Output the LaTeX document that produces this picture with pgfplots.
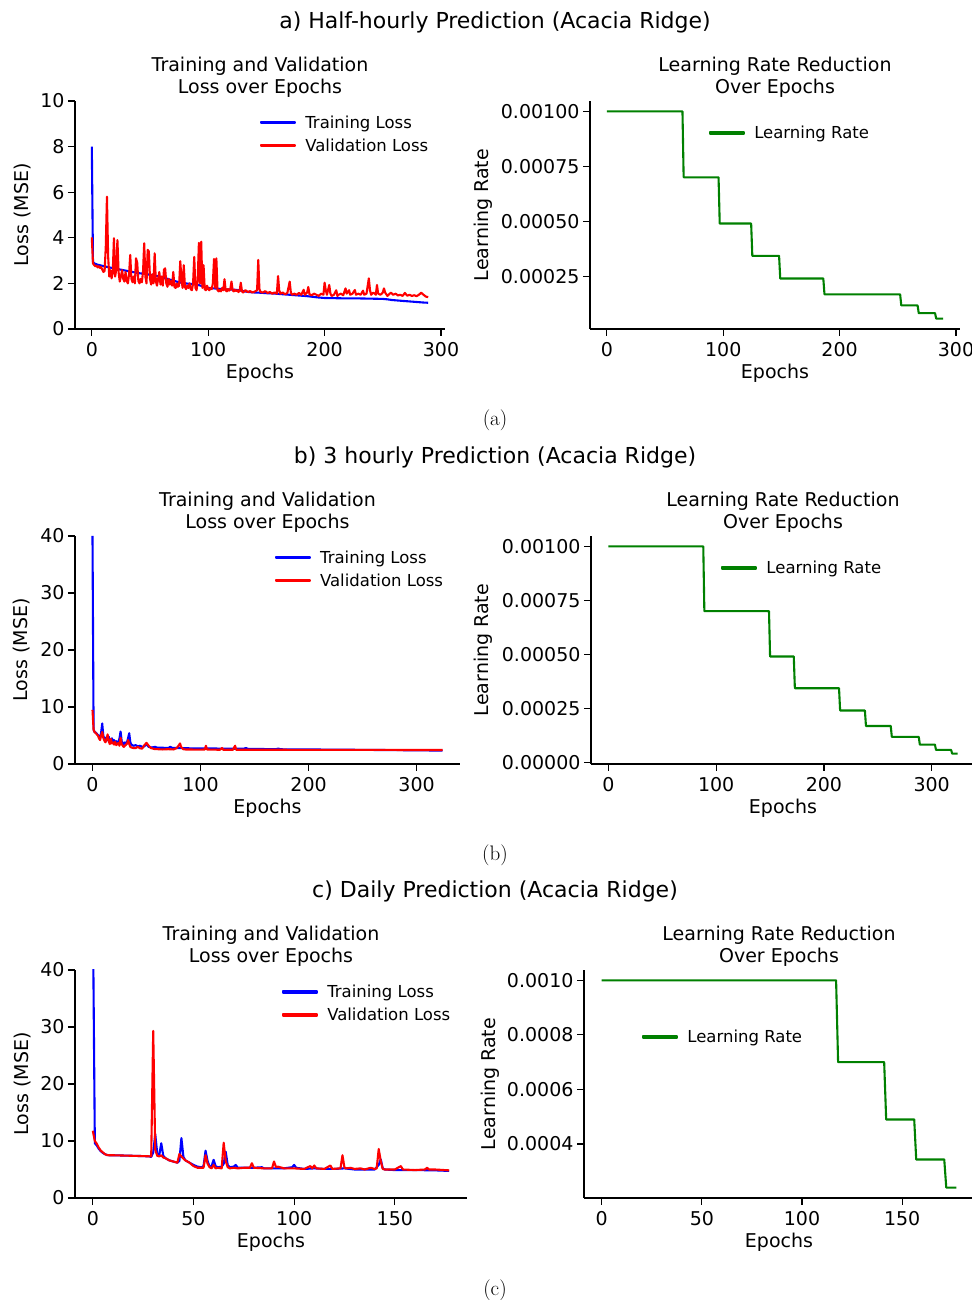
\documentclass[border=0pt]{standalone}
\usepackage{pgfplots}
\pgfplotsset{compat=1.18}
\usepackage{pgfplotstable}
\usepackage{fontspec}
\newfontfamily\dv{DejaVu Sans}

\definecolor{mplblue}{RGB}{0,0,255}
\definecolor{mplred}{RGB}{255,0,0}
\definecolor{mplgreen}{RGB}{0,128,0}

% ---------------- a) Half-hourly ----------------
\pgfplotstableread{
e v
0 8.0
1 2.95
2 2.88
5 2.82
10 2.76
15 2.7
20 2.65
25 2.6
30 2.55
35 2.5
40 2.45
45 2.42
50 2.38
55 2.33
60 2.28
65 2.2
70 2.12
75 2.05
80 2.0
85 1.98
90 1.95
95 1.88
100 1.8
105 1.78
110 1.76
115 1.74
120 1.73
125 1.71
130 1.66
135 1.62
140 1.6
145 1.59
150 1.57
155 1.56
160 1.54
165 1.52
170 1.5
175 1.48
180 1.46
185 1.44
190 1.41
195 1.38
200 1.36
210 1.35
220 1.34
230 1.34
240 1.33
250 1.32
254 1.3
258 1.27
265 1.24
270 1.22
275 1.2
280 1.18
285 1.16
289 1.15
}\aTrain

\pgfplotstableread{
e v
0 4.02
1 2.88
2 2.8
3 2.75
4 2.78
5 2.7
6 2.75
7 2.68
8 2.72
9 2.6
10 2.5
11 2.55
12 3.6
13 5.8
14 3.2
15 2.3
16 2.58
17 2.22
18 2.5
19 3.98
20 2.3
21 2.6
22 3.9
23 2.5
24 2.08
25 2.3
26 2.58
27 2.2
28 2.08
29 2.5
30 2.1
31 2.0
32 2.4
33 3.25
34 2.2
35 2.05
36 2.3
37 2.0
38 3.1
39 2.9
40 2.1
41 2.0
42 2.2
43 2.05
44 2.5
45 3.76
46 2.3
47 2.0
48 3.47
49 3.4
50 2.2
51 1.95
52 2.4
53 2.0
54 3.32
55 2.1
56 1.9
57 2.2
58 2.5
59 1.95
60 2.3
61 1.9
62 2.6
63 2.66
64 2.0
65 1.85
66 2.2
67 1.95
68 2.1
69 1.9
70 2.5
71 1.85
72 1.8
73 2.0
74 1.85
75 1.9
76 2.97
77 2.2
78 1.8
79 2.8
80 1.85
81 1.75
82 1.9
83 1.8
84 2.0
85 1.75
86 1.7
87 2.0
88 3.16
89 1.8
90 1.7
91 2.2
92 3.78
93 2.0
94 3.83
95 1.8
96 2.8
97 1.75
98 1.7
99 1.9
100 1.75
101 1.7
102 1.8
103 1.75
104 2.0
105 3.07
106 1.8
107 3.1
108 1.7
109 1.65
110 1.72
111 1.65
112 1.8
113 1.7
114 2.18
115 1.7
116 1.65
117 1.75
118 1.68
119 1.75
120 2.08
121 1.7
122 1.65
123 1.72
124 1.66
125 1.7
126 1.62
127 1.68
128 2.03
129 1.65
130 1.6
132 1.7
134 1.62
136 1.66
138 1.6
140 1.64
142 1.7
143 3.03
144 1.75
145 1.62
147 1.6
149 1.66
151 1.58
153 1.62
155 1.55
157 1.6
159 1.55
160 2.32
161 1.7
162 1.55
164 1.6
166 1.52
168 1.58
170 2.08
171 1.6
172 1.5
174 1.55
176 1.5
178 1.58
180 1.5
182 1.72
183 1.5
185 1.6
186 1.84
187 1.52
189 1.48
191 1.55
193 1.5
195 1.45
197 1.55
199 1.5
200 2.03
201 1.7
202 1.5
204 1.93
205 1.55
206 1.45
208 1.5
210 1.7
211 1.45
212 1.5
214 1.55
216 1.48
218 1.78
219 1.55
221 1.7
222 1.5
224 1.55
226 1.71
227 1.5
229 1.55
231 1.5
233 1.68
234 1.5
236 1.55
238 2.22
239 1.7
240 1.5
242 1.6
244 1.5
245 1.93
246 1.55
248 1.5
250 1.6
251 1.78
252 1.6
254 1.45
256 1.55
257 1.59
259 1.5
261 1.55
263 1.47
265 1.5
267 1.45
269 1.58
271 1.46
273 1.5
275 1.45
277 1.48
279 1.44
281 1.5
283 1.59
285 1.5
287 1.42
289 1.4
}\aVal

\pgfplotstableread{
e v
0 0.001
65 0.001
66 0.0007
96 0.0007
97 0.00049
124 0.00049
125 0.000343
148 0.000343
149 0.0002401
186 0.0002401
187 0.00016807
252 0.00016807
253 0.000117649
267 0.000117649
268 0.0000823543
282 0.0000823543
283 0.000057648
289 0.000057648
}\aLR

% ---------------- b) 3 hourly ----------------
\pgfplotstableread{
e v
0 40
1 6.0
2 5.6
3 5.5
4 5.3
5 5.1
6 4.8
7 4.6
8 5.5
9 7.1
10 5.0
11 4.4
12 4.6
13 4.1
14 4.3
15 4.8
16 4.0
17 4.2
18 4.5
19 3.8
20 4.2
21 3.7
22 4.0
23 3.6
24 3.9
25 4.5
26 5.7
27 4.0
28 3.7
29 3.5
30 3.8
31 3.4
32 3.8
33 4.6
34 5.4
35 3.8
36 3.4
37 3.3
38 3.2
40 3.3
42 3.1
44 3.2
46 3.0
48 3.1
50 3.5
52 3.0
55 2.9
58 3.0
60 2.85
65 2.85
70 2.8
72 3.0
74 2.8
80 2.8
85 2.78
90 2.75
100 2.75
110 2.72
120 2.7
130 2.68
140 2.67
142 2.8
144 2.65
150 2.64
170 2.6
172 2.7
174 2.58
200 2.55
250 2.48
300 2.4
324 2.35
}\bTrain

\pgfplotstableread{
e v
0 9.5
1 6.0
2 5.6
3 5.4
4 5.2
5 5.0
6 4.5
7 4.2
8 5.0
9 5.6
10 4.6
11 4.1
12 3.8
13 4.4
14 5.2
15 4.0
16 3.5
17 4.4
18 3.6
19 3.8
20 3.4
21 3.9
22 3.3
23 3.5
24 3.7
25 3.2
26 4.6
27 3.5
28 3.2
29 3.0
30 3.2
31 3.4
32 3.6
33 4.2
34 3.5
35 3.0
36 2.9
38 2.8
40 2.8
42 3.0
44 2.75
46 2.7
48 3.3
50 3.7
52 3.2
54 2.8
56 2.7
58 2.6
60 2.6
65 2.55
70 2.6
75 2.55
78 2.8
80 3.3
81 3.6
82 3.0
84 2.6
86 2.55
90 2.55
95 2.52
100 2.52
104 2.55
105 3.2
106 2.55
110 2.52
118 2.5
120 2.8
121 2.5
130 2.5
132 3.2
133 2.5
140 2.5
160 2.5
200 2.48
250 2.47
300 2.46
324 2.45
}\bVal

\pgfplotstableread{
e v
0 0.001
88 0.001
89 0.0007
149 0.0007
150 0.00049
172 0.00049
173 0.000343
214 0.000343
215 0.0002401
238 0.0002401
239 0.00016807
262 0.00016807
263 0.000117649
288 0.000117649
289 0.0000823543
303 0.0000823543
304 0.000057648
318 0.000057648
319 0.0000403536
324 0.0000403536
}\bLR

% ---------------- c) Daily ----------------
\pgfplotstableread{
e v
0 52
1 9.6
2 9.2
3 8.6
4 8.2
5 7.9
6 7.7
7 7.55
8 7.5
10 7.5
15 7.45
20 7.4
25 7.35
28 7.3
29 7.2
30 8.0
31 11.2
32 7.8
33 7.5
34 9.6
35 7.4
36 7.0
37 6.8
38 6.6
40 6.4
42 6.2
43 6.5
44 10.5
45 7.2
46 6.6
48 6.2
50 5.8
52 5.5
54 5.4
55 5.6
56 8.3
57 6.5
58 5.5
59 5.6
60 6.7
61 5.6
62 5.4
64 5.5
65 6.0
66 8.1
67 5.8
68 5.4
70 5.5
71 5.8
72 5.3
75 5.3
80 5.3
84 5.4
85 5.2
90 5.2
95 5.2
99 5.4
100 5.8
101 5.3
105 5.1
110 5.2
115 5.1
120 5.1
125 5.2
130 5.0
140 5.0
142 5.8
143 6.8
144 5.2
145 5.0
150 4.9
160 4.9
170 4.85
177 4.75
}\cTrain

\pgfplotstableread{
e v
0 11.8
1 10.0
2 9.5
3 8.8
4 8.3
5 8.0
6 7.7
7 7.55
8 7.5
10 7.5
15 7.45
20 7.4
25 7.35
29 7.3
30 29.3
31 8.5
32 7.4
33 7.3
34 7.5
35 7.1
36 7.0
38 6.6
40 6.4
42 6.2
43 7.7
44 7.3
45 6.9
46 6.6
48 6.2
50 5.6
52 5.3
55 5.3
56 7.5
57 6.0
58 5.4
59 5.2
60 5.8
61 5.2
62 5.3
64 5.2
65 9.7
66 6.5
67 5.4
68 5.2
70 5.3
72 5.2
75 5.3
78 5.3
79 6.1
80 5.3
85 5.2
89 5.2
90 6.4
91 5.4
92 5.5
95 5.2
100 5.2
105 5.1
108 5.6
109 5.2
110 5.7
111 5.2
115 5.1
118 5.7
119 5.1
123 5.2
124 7.5
125 5.3
126 5.2
128 5.3
130 5.1
133 5.2
135 5.0
138 5.3
140 5.1
141 5.2
142 8.6
143 6.5
144 5.1
145 5.0
150 5.0
153 5.6
154 5.0
160 4.9
165 5.0
166 5.3
167 5.0
170 5.0
177 4.85
}\cVal

\pgfplotstableread{
e v
0 0.001
117 0.001
118 0.0007
141 0.0007
142 0.00049
156 0.00049
157 0.000343
171 0.000343
172 0.0002401
177 0.0002401
}\cLR

\pgfplotsset{
  panel/.style={
    scale only axis, height=228pt,
    axis lines=left,
    axis line style={-, line width=1.1pt, black},
    tick align=outside, major tick length=7pt,
    tick style={line width=1.1pt, black},
    enlargelimits=false, clip=true, scaled ticks=false,
    /pgf/number format/assume math mode=true,
    tick label style={font=\dv\fontsize{19}{19}\selectfont},
    xticklabel style={yshift=-3pt},
    label style={font=\dv\fontsize{19}{19}\selectfont},
    title style={font=\dv\fontsize{19}{22}\selectfont, align=center,
      at={(axis description cs:0.5,1)}, anchor=south, yshift=-3pt, inner sep=0pt},
    xlabel={Epochs},
    xlabel style={at={(axis description cs:0.5,-0.193)}, anchor=center},
    legend style={draw=none, fill=none, font=\dv\fontsize{16.5}{16.5}\selectfont,
      anchor=west, inner sep=0pt, row sep=5pt, column sep=7pt},
    legend cell align=left,
  },
  % legend key: a short bar in the series colour
  key/.style={legend image code/.code={\fill[#1] (0pt,-0.8pt) rectangle (34pt,0.8pt);}},
  curve/.style={line width=2.1pt, line join=round},
  losspanel/.style={panel, ylabel={Loss (MSE)},
    title={Training and Validation\\Loss over Epochs}},
  lrpanel/.style={panel, ylabel={Learning Rate},
    title={Learning Rate Reduction\\Over Epochs}},
}

\begin{document}
\begin{tikzpicture}
\fill[white] (0pt,0pt) rectangle (971pt,1300pt);
\useasboundingbox (0pt,0pt) rectangle (971pt,1300pt);

% ===== row a =====
\node[font=\dv\fontsize{22}{22}\selectfont] at (495pt,1278pt) {a) Half-hourly Prediction (Acacia Ridge)};
\begin{axis}[losspanel, at={(75pt,971pt)}, anchor=south west, width=370pt,
  xmin=-14.45, xmax=303.45, ymin=0, ymax=10,
  xtick={0,100,200,300}, ytick={0,2,4,6,8,10},
  ylabel style={at={(axis description cs:-0.143,0.5)}, anchor=center},
  legend style={at={(axis description cs:0.5,0.855)}}]
\addplot[mplblue, curve, key={mplblue}] table[x=e,y=v] {\aTrain};
\addplot[mplred, curve, key={mplred}] table[x=e,y=v] {\aVal};
\legend{Training Loss, Validation Loss}
\end{axis}
\begin{axis}[lrpanel, at={(590pt,971pt)}, anchor=south west, width=370pt,
  xmin=-14.45, xmax=303.45, ymin=0.0000105, ymax=0.001047,
  xtick={0,100,200,300},
  ytick={0.00025,0.0005,0.00075,0.001},
  yticklabels={0.00025,0.00050,0.00075,0.00100},
  ylabel style={at={(axis description cs:-0.289,0.5)}, anchor=center},
  legend style={at={(axis description cs:0.3216,0.86)}}]
\addplot[mplgreen, curve, key={mplgreen}] table[x=e,y=v] {\aLR};
\legend{Learning Rate}
\end{axis}
\node[font=\fontsize{21}{21}\selectfont] at (495pt,880pt) {(a)};

% ===== row b =====
\node[font=\dv\fontsize{22}{22}\selectfont] at (495pt,843pt) {b) 3 hourly Prediction (Acacia Ridge)};
\begin{axis}[losspanel, at={(75pt,536pt)}, anchor=south west, width=385pt,
  xmin=-16.2, xmax=340.2, ymin=0, ymax=40,
  xtick={0,100,200,300}, ytick={0,10,20,30,40},
  ylabel style={at={(axis description cs:-0.138,0.5)}, anchor=center},
  legend style={at={(axis description cs:0.519,0.855)}}]
\addplot[mplblue, curve, key={mplblue}] table[x=e,y=v] {\bTrain};
\addplot[mplred, curve, key={mplred}] table[x=e,y=v] {\bVal};
\legend{Training Loss, Validation Loss}
\end{axis}
\begin{axis}[lrpanel, at={(591pt,536pt)}, anchor=south west, width=384pt,
  xmin=-16.2, xmax=340.2, ymin=-0.0000076, ymax=0.001048,
  xtick={0,100,200,300},
  ytick={0,0.00025,0.0005,0.00075,0.001},
  yticklabels={0.00000,0.00025,0.00050,0.00075,0.00100},
  ylabel style={at={(axis description cs:-0.281,0.5)}, anchor=center},
  legend style={at={(axis description cs:0.339,0.86)}}]
\addplot[mplgreen, curve, key={mplgreen}] table[x=e,y=v] {\bLR};
\legend{Learning Rate}
\end{axis}
\node[font=\fontsize{21}{21}\selectfont] at (495pt,445pt) {(b)};

% ===== row c =====
\node[font=\dv\fontsize{22}{22}\selectfont] at (495pt,409pt) {c) Daily Prediction (Acacia Ridge)};
\begin{axis}[losspanel, at={(75pt,102pt)}, anchor=south west, width=392pt,
  xmin=-8.85, xmax=185.85, ymin=0, ymax=40,
  xtick={0,50,100,150}, ytick={0,10,20,30,40},
  ylabel style={at={(axis description cs:-0.135,0.5)}, anchor=center},
  legend style={at={(axis description cs:0.528,0.853)}}]
\addplot[mplblue, curve, key={mplblue}] table[x=e,y=v] {\cTrain};
\addplot[mplred, curve, key={mplred}] table[x=e,y=v] {\cVal};
\legend{Training Loss, Validation Loss}
\end{axis}
\begin{axis}[lrpanel, at={(584pt,102pt)}, anchor=south west, width=390pt,
  xmin=-8.85, xmax=185.85, ymin=0.000202, ymax=0.001038,
  xtick={0,50,100,150},
  ytick={0.0004,0.0006,0.0008,0.001},
  yticklabels={0.0004,0.0006,0.0008,0.0010},
  ylabel style={at={(axis description cs:-0.241,0.5)}, anchor=center},
  legend style={at={(axis description cs:0.149,0.706)}}]
\addplot[mplgreen, curve, key={mplgreen}] table[x=e,y=v] {\cLR};
\legend{Learning Rate}
\end{axis}
\node[font=\fontsize{21}{21}\selectfont] at (495pt,10pt) {(c)};
\end{tikzpicture}
\end{document}
